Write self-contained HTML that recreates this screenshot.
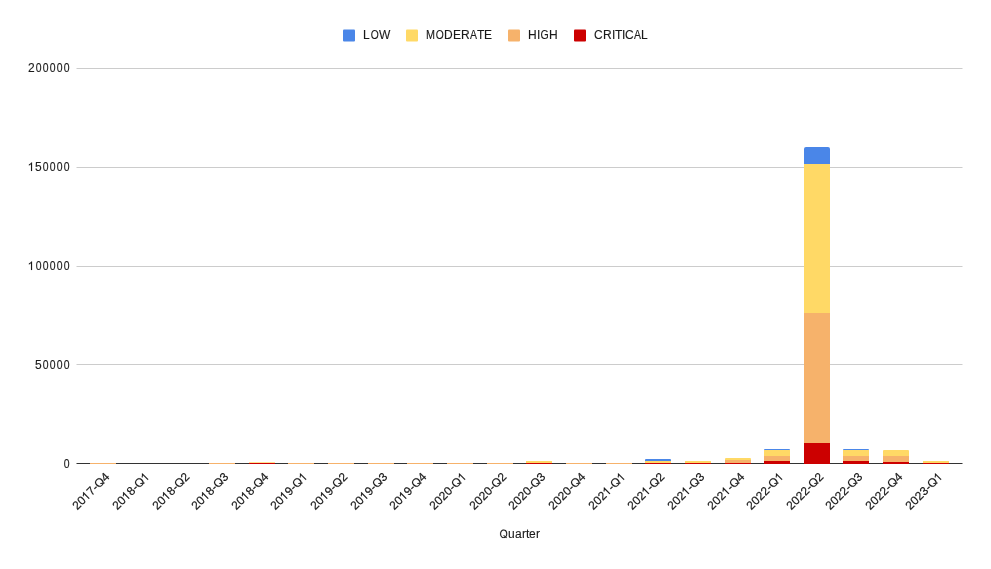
<!DOCTYPE html>
<html><head><meta charset="utf-8"><style>
html,body{margin:0;padding:0;background:#fff;}
body{width:991px;height:569px;overflow:hidden;}
svg{display:block;will-change:transform;}
text{font-family:"Liberation Sans", sans-serif;font-size:12px;fill:#1a1a1a;stroke:#1a1a1a;stroke-width:0.12px;}
#g1,#gQ>path:first-child{stroke:#1a1a1a;stroke-width:0.12px;}
.xl text,.xl use{stroke:#1a1a1a;stroke-width:0.2px;}
</style></head><body>
<svg width="991" height="569" viewBox="0 0 991 569">
<rect x="0" y="0" width="991" height="569" fill="#ffffff"/>
<defs>
<path id="g1" d="M4.05 0H3V-6.72Q2.61 -6.36 1.99 -5.99Q1.37 -5.63 0.88 -5.45V-6.47Q1.77 -6.88 2.43 -7.48Q3.09 -8.07 3.36 -8.62H4.05Z" fill="#1a1a1a"/>
<g id="gQ" fill="#1a1a1a"><path d="M8.76 -4.166Q8.76 -2.871 8.265 -1.898Q7.77 -0.926 6.844 -0.404Q5.918 0.117 4.658 0.117Q3.387 0.117 2.464 -0.398Q1.541 -0.914 1.055 -1.89Q0.568 -2.865 0.568 -4.166Q0.568 -6.146 1.652 -7.263Q2.736 -8.379 4.67 -8.379Q5.93 -8.379 6.855 -7.878Q7.781 -7.377 8.271 -6.422Q8.76 -5.467 8.76 -4.166ZM7.617 -4.166Q7.617 -5.707 6.847 -6.586Q6.076 -7.465 4.67 -7.465Q3.252 -7.465 2.479 -6.598Q1.705 -5.73 1.705 -4.166Q1.705 -2.613 2.487 -1.702Q3.27 -0.791 4.658 -0.791Q6.088 -0.791 6.853 -1.673Q7.617 -2.555 7.617 -4.166Z"/><path d="M4.6 -2.7L8.1 -0.1" stroke="#1a1a1a" stroke-width="1.05" fill="none"/></g>
</defs>

<rect x="343" y="29.5" width="12" height="12" rx="1" ry="1" fill="#4a86e8"/>
<text x="363.00" y="39">L</text><text x="370.00" y="39" transform="matrix(0.86 0 0 1 52.452 0)">O</text><text x="379.00" y="39">W</text>
<rect x="406" y="29.5" width="12" height="12" rx="1" ry="1" fill="#ffd966"/>
<text x="425.60" y="39" transform="matrix(0.9 0 0 1 43.060 0)">M</text><text x="435.00" y="39" transform="matrix(0.86 0 0 1 61.552 0)">O</text><text x="444.00 453.00 461.00" y="39">DER</text><text x="469.50" y="39" transform="matrix(0.875 0 0 1 59.188 0)">A</text><text x="477.00 484.00" y="39">TE</text>
<rect x="508" y="29.5" width="12" height="12" rx="1" ry="1" fill="#f6b26b"/>
<text x="528.00 537.00" y="39">HI</text><text x="540.00" y="39" transform="matrix(0.88 0 0 1 65.342 0)">G</text><text x="549.00" y="39">H</text>
<rect x="574" y="29.5" width="12" height="12" rx="1" ry="1" fill="#cc0000"/>
<text x="594.00 603.00 612.00 615.00 622.00 625.00" y="39">CRITIC</text><text x="633.50" y="39" transform="matrix(0.875 0 0 1 79.688 0)">A</text><text x="641.00" y="39">L</text>
<rect x="76.5" y="68" width="886.0" height="1" fill="#cccccc"/>
<rect x="76.5" y="167" width="886.0" height="1" fill="#cccccc"/>
<rect x="76.5" y="266" width="886.0" height="1" fill="#cccccc"/>
<rect x="76.5" y="364" width="886.0" height="1" fill="#cccccc"/>
<text x="28.00" y="72">2</text><text x="35.27" y="72" transform="matrix(0.87 0 0 1 5.018 0)">0</text><text x="42.27" y="72" transform="matrix(0.87 0 0 1 5.928 0)">0</text><text x="49.27" y="72" transform="matrix(0.87 0 0 1 6.838 0)">0</text><text x="56.27" y="72" transform="matrix(0.87 0 0 1 7.748 0)">0</text><text x="63.27" y="72" transform="matrix(0.87 0 0 1 8.658 0)">0</text>
<use href="#g1" x="28.00" y="171"/><text x="35.00" y="171">5</text><text x="42.27" y="171" transform="matrix(0.87 0 0 1 5.928 0)">0</text><text x="49.27" y="171" transform="matrix(0.87 0 0 1 6.838 0)">0</text><text x="56.27" y="171" transform="matrix(0.87 0 0 1 7.748 0)">0</text><text x="63.27" y="171" transform="matrix(0.87 0 0 1 8.658 0)">0</text>
<use href="#g1" x="28.00" y="270"/><text x="35.27" y="270" transform="matrix(0.87 0 0 1 5.018 0)">0</text><text x="42.27" y="270" transform="matrix(0.87 0 0 1 5.928 0)">0</text><text x="49.27" y="270" transform="matrix(0.87 0 0 1 6.838 0)">0</text><text x="56.27" y="270" transform="matrix(0.87 0 0 1 7.748 0)">0</text><text x="63.27" y="270" transform="matrix(0.87 0 0 1 8.658 0)">0</text>
<text x="35.00" y="369">5</text><text x="42.27" y="369" transform="matrix(0.87 0 0 1 5.928 0)">0</text><text x="49.27" y="369" transform="matrix(0.87 0 0 1 6.838 0)">0</text><text x="56.27" y="369" transform="matrix(0.87 0 0 1 7.748 0)">0</text><text x="63.27" y="369" transform="matrix(0.87 0 0 1 8.658 0)">0</text>
<text x="63.27" y="468" transform="matrix(0.87 0 0 1 8.658 0)">0</text>
<rect x="76.5" y="463" width="886.0" height="1" fill="#333333"/>
<rect x="90" y="463" width="26" height="1" fill="#f6b26b"/>
<rect x="209" y="463" width="26" height="1" fill="#f6b26b"/>
<rect x="249" y="463" width="26" height="1" fill="#cc0000"/>
<rect x="249" y="462.3" width="26" height="0.6999999999999886" fill="#ffd966"/>
<rect x="288" y="463" width="26" height="1" fill="#f6b26b"/>
<rect x="328" y="463" width="26" height="1" fill="#f6b26b"/>
<rect x="368" y="463" width="26" height="1" fill="#f6b26b"/>
<rect x="407" y="463" width="26" height="1" fill="#f6b26b"/>
<rect x="447" y="463" width="26" height="1" fill="#f6b26b"/>
<rect x="487" y="463" width="26" height="1" fill="#f6b26b"/>
<rect x="526" y="463" width="26" height="1" fill="#cc0000"/>
<rect x="526" y="461" width="26" height="2" fill="#ffd966"/>
<rect x="566" y="463" width="26" height="1" fill="#f6b26b"/>
<rect x="606" y="463" width="26" height="1" fill="#f6b26b"/>
<clipPath id="c14"><rect x="645" y="459" width="26" height="15" rx="1" ry="1"/></clipPath>
<g clip-path="url(#c14)"><rect x="645" y="463" width="26" height="1" fill="#cc0000"/><rect x="645" y="461" width="26" height="2" fill="#ffd966"/><rect x="645" y="459" width="26" height="2" fill="#4a86e8"/></g>
<rect x="685" y="463" width="26" height="1" fill="#cc0000"/>
<rect x="685" y="461" width="26" height="2" fill="#ffd966"/>
<clipPath id="c16"><rect x="725" y="458" width="26" height="16" rx="1" ry="1"/></clipPath>
<g clip-path="url(#c16)"><rect x="725" y="463" width="26" height="1" fill="#cc0000"/><rect x="725" y="460" width="26" height="3" fill="#f6b26b"/><rect x="725" y="458" width="26" height="2" fill="#ffd966"/></g>
<clipPath id="c17"><rect x="764" y="449" width="26" height="25" rx="1" ry="1"/></clipPath>
<g clip-path="url(#c17)"><rect x="764" y="461" width="26" height="3" fill="#cc0000"/><rect x="764" y="456" width="26" height="5" fill="#f6b26b"/><rect x="764" y="450" width="26" height="6" fill="#ffd966"/><rect x="764" y="449" width="26" height="1" fill="#4a86e8"/></g>
<clipPath id="c18"><rect x="804" y="147" width="26" height="327" rx="2" ry="2"/></clipPath>
<g clip-path="url(#c18)"><rect x="804" y="443" width="26" height="21" fill="#cc0000"/><rect x="804" y="313" width="26" height="130" fill="#f6b26b"/><rect x="804" y="164" width="26" height="149" fill="#ffd966"/><rect x="804" y="147" width="26" height="17" fill="#4a86e8"/></g>
<clipPath id="c19"><rect x="843" y="449" width="26" height="25" rx="1" ry="1"/></clipPath>
<g clip-path="url(#c19)"><rect x="843" y="461" width="26" height="3" fill="#cc0000"/><rect x="843" y="456" width="26" height="5" fill="#f6b26b"/><rect x="843" y="450" width="26" height="6" fill="#ffd966"/><rect x="843" y="449" width="26" height="1" fill="#4a86e8"/></g>
<clipPath id="c20"><rect x="883" y="450" width="26" height="24" rx="1" ry="1"/></clipPath>
<g clip-path="url(#c20)"><rect x="883" y="462" width="26" height="2" fill="#cc0000"/><rect x="883" y="456" width="26" height="6" fill="#f6b26b"/><rect x="883" y="450" width="26" height="6" fill="#ffd966"/></g>
<rect x="923" y="463" width="26" height="1" fill="#cc0000"/>
<rect x="923" y="461" width="26" height="2" fill="#ffd966"/>
<g class="xl" transform="rotate(-45 111.20 476.5)"><text x="63.20 69.87" y="476.5">20</text><use href="#g1" x="76.55" y="476.5"/><text x="83.22 89.90" y="476.5">7-</text><use href="#gQ" x="93.89" y="476.5"/><text x="103.23" y="476.5">4</text></g>
<g class="xl" transform="rotate(-45 151.20 476.5)"><text x="103.20 109.87" y="476.5">20</text><use href="#g1" x="116.55" y="476.5"/><text x="123.22 129.90" y="476.5">8-</text><use href="#gQ" x="133.89" y="476.5"/><use href="#g1" x="143.23" y="476.5"/></g>
<g class="xl" transform="rotate(-45 191.20 476.5)"><text x="143.20 149.87" y="476.5">20</text><use href="#g1" x="156.55" y="476.5"/><text x="163.22 169.90" y="476.5">8-</text><use href="#gQ" x="173.89" y="476.5"/><text x="183.23" y="476.5">2</text></g>
<g class="xl" transform="rotate(-45 230.20 476.5)"><text x="182.20 188.87" y="476.5">20</text><use href="#g1" x="195.55" y="476.5"/><text x="202.22 208.90" y="476.5">8-</text><use href="#gQ" x="212.89" y="476.5"/><text x="222.23" y="476.5">3</text></g>
<g class="xl" transform="rotate(-45 270.20 476.5)"><text x="222.20 228.87" y="476.5">20</text><use href="#g1" x="235.55" y="476.5"/><text x="242.22 248.90" y="476.5">8-</text><use href="#gQ" x="252.89" y="476.5"/><text x="262.23" y="476.5">4</text></g>
<g class="xl" transform="rotate(-45 309.20 476.5)"><text x="261.20 267.87" y="476.5">20</text><use href="#g1" x="274.55" y="476.5"/><text x="281.22 287.90" y="476.5">9-</text><use href="#gQ" x="291.89" y="476.5"/><use href="#g1" x="301.23" y="476.5"/></g>
<g class="xl" transform="rotate(-45 349.20 476.5)"><text x="301.20 307.87" y="476.5">20</text><use href="#g1" x="314.55" y="476.5"/><text x="321.22 327.90" y="476.5">9-</text><use href="#gQ" x="331.89" y="476.5"/><text x="341.23" y="476.5">2</text></g>
<g class="xl" transform="rotate(-45 389.20 476.5)"><text x="341.20 347.87" y="476.5">20</text><use href="#g1" x="354.55" y="476.5"/><text x="361.22 367.90" y="476.5">9-</text><use href="#gQ" x="371.89" y="476.5"/><text x="381.23" y="476.5">3</text></g>
<g class="xl" transform="rotate(-45 428.20 476.5)"><text x="380.20 386.87" y="476.5">20</text><use href="#g1" x="393.55" y="476.5"/><text x="400.22 406.90" y="476.5">9-</text><use href="#gQ" x="410.89" y="476.5"/><text x="420.23" y="476.5">4</text></g>
<g class="xl" transform="rotate(-45 468.20 476.5)"><text x="420.20 426.87 433.55 440.22 446.90" y="476.5">2020-</text><use href="#gQ" x="450.89" y="476.5"/><use href="#g1" x="460.23" y="476.5"/></g>
<g class="xl" transform="rotate(-45 508.20 476.5)"><text x="460.20 466.87 473.55 480.22 486.90" y="476.5">2020-</text><use href="#gQ" x="490.89" y="476.5"/><text x="500.23" y="476.5">2</text></g>
<g class="xl" transform="rotate(-45 547.20 476.5)"><text x="499.20 505.87 512.55 519.22 525.90" y="476.5">2020-</text><use href="#gQ" x="529.89" y="476.5"/><text x="539.23" y="476.5">3</text></g>
<g class="xl" transform="rotate(-45 587.20 476.5)"><text x="539.20 545.87 552.55 559.22 565.90" y="476.5">2020-</text><use href="#gQ" x="569.89" y="476.5"/><text x="579.23" y="476.5">4</text></g>
<g class="xl" transform="rotate(-45 627.20 476.5)"><text x="579.20 585.87 592.55" y="476.5">202</text><use href="#g1" x="599.22" y="476.5"/><text x="605.90" y="476.5">-</text><use href="#gQ" x="609.89" y="476.5"/><use href="#g1" x="619.23" y="476.5"/></g>
<g class="xl" transform="rotate(-45 666.20 476.5)"><text x="618.20 624.87 631.55" y="476.5">202</text><use href="#g1" x="638.22" y="476.5"/><text x="644.90" y="476.5">-</text><use href="#gQ" x="648.89" y="476.5"/><text x="658.23" y="476.5">2</text></g>
<g class="xl" transform="rotate(-45 706.20 476.5)"><text x="658.20 664.87 671.55" y="476.5">202</text><use href="#g1" x="678.22" y="476.5"/><text x="684.90" y="476.5">-</text><use href="#gQ" x="688.89" y="476.5"/><text x="698.23" y="476.5">3</text></g>
<g class="xl" transform="rotate(-45 746.20 476.5)"><text x="698.20 704.87 711.55" y="476.5">202</text><use href="#g1" x="718.22" y="476.5"/><text x="724.90" y="476.5">-</text><use href="#gQ" x="728.89" y="476.5"/><text x="738.23" y="476.5">4</text></g>
<g class="xl" transform="rotate(-45 785.20 476.5)"><text x="737.20 743.87 750.55 757.22 763.90" y="476.5">2022-</text><use href="#gQ" x="767.89" y="476.5"/><use href="#g1" x="777.23" y="476.5"/></g>
<g class="xl" transform="rotate(-45 825.20 476.5)"><text x="777.20 783.87 790.55 797.22 803.90" y="476.5">2022-</text><use href="#gQ" x="807.89" y="476.5"/><text x="817.23" y="476.5">2</text></g>
<g class="xl" transform="rotate(-45 864.20 476.5)"><text x="816.20 822.87 829.55 836.22 842.90" y="476.5">2022-</text><use href="#gQ" x="846.89" y="476.5"/><text x="856.23" y="476.5">3</text></g>
<g class="xl" transform="rotate(-45 904.20 476.5)"><text x="856.20 862.87 869.55 876.22 882.90" y="476.5">2022-</text><use href="#gQ" x="886.89" y="476.5"/><text x="896.23" y="476.5">4</text></g>
<g class="xl" transform="rotate(-45 944.20 476.5)"><text x="896.20 902.87 909.55 916.22 922.90" y="476.5">2023-</text><use href="#gQ" x="926.89" y="476.5"/><use href="#g1" x="936.23" y="476.5"/></g>
<use href="#gQ" x="499.00" y="538" transform="matrix(0.87 0 0 1 65.476 0)"/><text x="508.00 515.00 522.00 526.00 529.00 536.00" y="538">uarter</text>
</svg></body></html>
